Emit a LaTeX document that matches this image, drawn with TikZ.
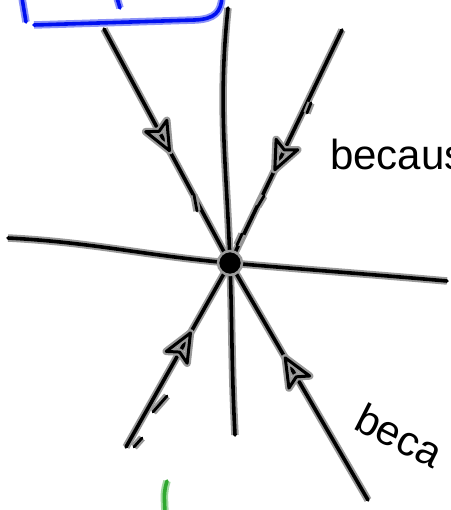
\documentclass[tikz,border=0pt]{standalone}
\usepackage{fontspec}
\newfontfamily\handfont{Liberation Sans}
\usetikzlibrary{decorations.markings}
\definecolor{penblue}{HTML}{0010F0}
\definecolor{pengreen}{HTML}{2FA82F}

\begin{document}
\begin{tikzpicture}[x=1pt,y=-1pt,
  ink/.style={line width=3.6pt,line cap=round,line join=round,
              preaction={draw=black!40,line width=7.5pt}},
  inarrow/.style={postaction={decorate,decoration={markings,
              mark=at position #1 with {\draw[ink,line width=3pt] (0,0) -- (-28,-12) -- (-22,0) -- (-28,12) -- cycle;}}}},
  blueink/.style={penblue,line width=3.6pt,line cap=round,
              preaction={draw=penblue!45,line width=7.5pt}},
  word/.style={font=\handfont\fontsize{42}{42}\selectfont,inner sep=0pt,anchor=base west}
]
\useasboundingbox (0,0) rectangle (450,510);
\coordinate (o) at (230,263);
\coordinate (north) at (228,8);
\coordinate (south) at (235,435);
\coordinate (west) at (8,238);
\coordinate (east) at (447,281);
\coordinate (nw) at (104,29);
\coordinate (ne) at (342,30);
\coordinate (sw) at (126,447);
\coordinate (se) at (368,500);

% axes
\draw[ink] (north) to[out=-96,in=92] (o) to[out=-88,in=93] (south);
\draw[ink] (west) to[out=-3,in=175] (o) to[out=-5,in=175] (east);

% incoming trajectories
\draw[ink,inarrow=0.52] (nw) -- (o);
\draw[ink,inarrow=0.6] (ne) -- (o);
\draw[ink,inarrow=0.62] (sw) -- (o);
\draw[ink,inarrow=0.6] (se) -- (o);

% stray pen strokes
\draw[ink,line width=2.8pt] (307,113) -- (311,103);
\draw[ink,line width=2.8pt] (258,206) -- (264,196);
\draw[ink,line width=2.8pt] (237,245) -- (242,234);
\draw[ink,line width=2.8pt] (194,195) -- (197,211);
\draw[ink,line width=2.8pt] (153,412) -- (167,396);
\draw[ink,line width=2.8pt] (134,447) -- (142,438);

\node[circle,fill=black,draw=black!40,line width=2.5pt,minimum size=24pt,inner sep=0pt] (saddle) at (o) {};

% notes
\node[word] (note1) at (330,170) {becaus};
\node[word,rotate=-27] (note2) at (352,428) {beca};

% blue box, cut at the top
\draw[blueink] (22,-2) -- (26,22);
\draw[blueink] (34,25) -- (195,20) .. controls (215,19) and (221,12) .. (222,-3);
\draw[blueink] (117,-2) -- (120,8);

% green stroke
\draw[pengreen,line width=3.6pt,line cap=round,preaction={draw=pengreen!45,line width=7.5pt}]
  (167,481) .. controls (164,492) .. (165,513);
\end{tikzpicture}
\end{document}
